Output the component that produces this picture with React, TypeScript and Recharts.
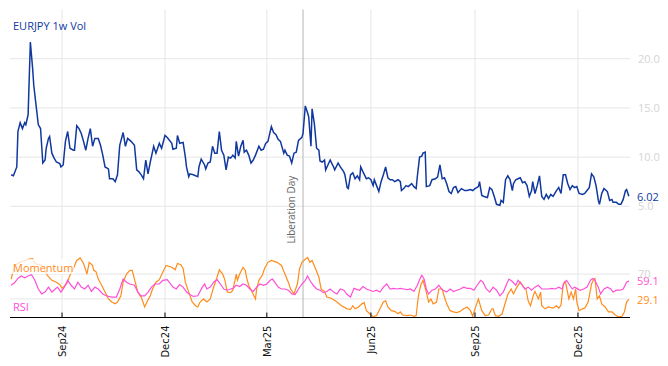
import React from 'react';
import { LineChart, Line, XAxis, YAxis, ReferenceLine, ReferenceDot } from 'recharts';

// x values are days counted from 2024-07-17
const tickDays = [46, 137, 227, 319, 411, 502];
const tickLabels = ['Sep24', 'Dec24', 'Mar25', 'Jun25', 'Sep25', 'Dec25'];
const liberationDay = 259;
const lastDay = 548;
const volTicks = [5, 10, 15, 20];
const oscTicks = [30, 70];

const volDays = [1, 3, 6, 7, 9, 11, 13, 14, 16, 18, 20, 21, 23, 25, 27, 29, 31, 32, 34, 35, 37, 39, 41, 44, 45, 47, 49, 51, 53, 56, 57, 59, 61, 63, 65, 67, 69, 71, 73, 75, 78, 80, 82, 84, 87, 88, 91, 93, 95, 97, 100, 102, 104, 107, 110, 112, 114, 116, 118, 120, 122, 124, 127, 129, 132, 134, 137, 139, 143, 144, 147, 148, 150, 153, 155, 156, 158, 159, 162, 166, 167, 169, 172, 173, 175, 177, 179, 181, 183, 185, 187, 189, 191, 193, 195, 197, 199, 200, 202, 204, 206, 207, 209, 211, 213, 215, 217, 220, 222, 224, 226, 228, 231, 233, 235, 237, 239, 242, 243, 245, 247, 249, 251, 253, 255, 258, 259, 261, 263, 264, 266, 267, 269, 271, 273, 274, 276, 278, 279, 281, 283, 286, 287, 290, 292, 295, 296, 298, 299, 301, 303, 305, 307, 309, 310, 312, 315, 317, 319, 321, 322, 324, 326, 328, 330, 332, 334, 336, 338, 340, 343, 345, 346, 348, 350, 352, 355, 357, 359, 360, 362, 364, 365, 367, 368, 371, 373, 376, 378, 380, 382, 384, 386, 388, 390, 392, 394, 396, 399, 402, 404, 407, 409, 411, 414, 415, 417, 419, 422, 424, 426, 428, 430, 433, 434, 436, 438, 440, 442, 444, 445, 447, 449, 451, 453, 455, 457, 459, 461, 462, 464, 466, 468, 470, 472, 474, 476, 478, 480, 483, 485, 487, 489, 491, 493, 495, 497, 499, 501, 503, 506, 508, 510, 512, 514, 516, 518, 520, 521, 523, 525, 528, 530, 532, 533, 536, 538, 540, 542, 544, 545, 547];
const volValues = [8.2, 8.1, 9.0, 12.6, 13.5, 12.9, 13.5, 13.3, 14.3, 21.7, 19.0, 17.3, 15.3, 13.3, 12.9, 9.4, 9.7, 10.9, 11.9, 12.1, 10.4, 9.9, 9.5, 9.35, 9.0, 9.2, 11.6, 12.6, 10.9, 10.7, 10.7, 13.2, 12.9, 12.4, 11.6, 10.7, 11.9, 12.9, 11.1, 11.9, 11.9, 11.2, 10.2, 9.0, 8.8, 7.8, 7.8, 7.5, 8.2, 11.2, 12.5, 11.1, 11.9, 11.6, 11.2, 8.7, 8.5, 8.2, 7.8, 9.7, 8.3, 9.5, 11.1, 10.4, 11.4, 10.9, 12.2, 12.0, 11.4, 10.8, 10.9, 12.2, 11.4, 11.5, 10.0, 9.0, 8.0, 8.3, 8.2, 8.0, 9.0, 9.8, 9.2, 8.8, 9.4, 9.5, 11.1, 10.4, 10.4, 12.6, 10.7, 10.2, 8.7, 10.0, 9.9, 10.2, 9.9, 11.6, 10.1, 11.1, 11.7, 10.5, 10.7, 10.2, 9.4, 9.7, 10.2, 11.1, 10.7, 10.8, 11.4, 11.6, 13.1, 12.5, 12.3, 11.8, 11.6, 10.4, 10.7, 10.2, 10.1, 9.4, 10.4, 10.5, 11.7, 12.0, 12.4, 15.2, 14.5, 14.1, 11.1, 14.9, 13.4, 10.9, 10.7, 9.6, 9.5, 9.7, 8.7, 9.2, 9.7, 9.0, 8.7, 9.4, 9.0, 8.5, 8.2, 6.9, 6.8, 8.2, 8.4, 7.8, 8.1, 7.7, 9.0, 8.5, 7.8, 7.9, 7.7, 7.1, 7.7, 7.1, 6.5, 7.5, 8.2, 9.0, 7.9, 7.7, 7.7, 7.5, 7.7, 7.5, 6.6, 6.8, 7.1, 7.0, 7.3, 7.0, 6.8, 8.0, 10.0, 10.1, 10.4, 10.5, 7.0, 7.1, 7.7, 7.8, 8.0, 9.2, 7.8, 7.9, 7.3, 6.5, 6.3, 6.9, 7.0, 6.4, 6.8, 6.6, 6.6, 6.7, 6.6, 6.8, 7.0, 7.5, 6.1, 6.0, 5.9, 6.9, 6.7, 6.0, 5.2, 5.1, 5.6, 5.4, 7.7, 8.1, 7.7, 6.6, 7.3, 7.7, 7.8, 7.9, 7.4, 7.5, 7.1, 6.0, 6.6, 7.5, 6.3, 7.1, 8.1, 6.0, 5.7, 6.2, 5.8, 6.2, 6.0, 6.6, 6.9, 6.3, 8.2, 8.2, 7.3, 6.7, 7.1, 6.9, 7.0, 6.3, 6.2, 6.3, 6.6, 6.9, 8.3, 8.0, 7.1, 5.6, 5.2, 6.3, 6.8, 6.5, 5.6, 5.7, 5.4, 5.4, 5.2, 5.2, 5.7, 6.6, 6.7, 6.02];

const momDays = [1, 4, 10, 16, 20, 22, 28, 31, 33, 37, 41, 44, 46, 50, 53, 56, 59, 62, 65, 67, 68, 70, 73, 74, 76, 78, 81, 84, 87, 90, 93, 95, 98, 100, 103, 106, 108, 110, 113, 115, 116, 119, 121, 124, 126, 129, 132, 135, 138, 143, 146, 148, 151, 153, 155, 158, 161, 164, 166, 168, 171, 174, 177, 180, 183, 185, 188, 190, 192, 195, 197, 200, 201, 203, 206, 208, 209, 211, 214, 215, 217, 218, 220, 223, 225, 228, 231, 236, 240, 243, 246, 248, 251, 254, 256, 258, 261, 263, 265, 267, 270, 273, 275, 278, 280, 284, 289, 293, 298, 301, 303, 305, 308, 311, 313, 315, 318, 321, 324, 327, 330, 332, 334, 337, 340, 343, 345, 347, 351, 354, 357, 359, 361, 363, 365, 368, 370, 372, 374, 377, 379, 382, 384, 386, 389, 392, 395, 398, 401, 404, 407, 409, 411, 414, 417, 420, 423, 426, 427, 429, 432, 435, 437, 440, 443, 445, 448, 451, 454, 456, 458, 460, 463, 464, 467, 469, 470, 473, 476, 480, 483, 485, 487, 489, 491, 494, 496, 498, 500, 501, 503, 506, 508, 511, 514, 516, 517, 519, 521, 523, 526, 529, 532, 535, 538, 541, 543, 545, 547];
const momValues = [62, 84, 90, 94, 95, 87, 84, 76, 68, 60, 57, 53, 47, 54, 68, 79, 92, 96, 87, 76, 70, 89, 84, 76, 74, 62, 52, 41, 30, 25, 22, 25, 35, 57, 70, 76, 76, 62, 41, 35, 33, 17, 25, 35, 46, 57, 61, 73, 84, 81, 77, 87, 85, 79, 57, 41, 25, 19, 17, 25, 30, 25, 30, 49, 65, 77, 70, 60, 41, 40, 44, 70, 60, 70, 81, 76, 65, 52, 41, 37, 30, 46, 60, 68, 79, 89, 92, 89, 84, 70, 57, 46, 38, 54, 79, 89, 94, 97, 89, 92, 79, 65, 46, 42, 33, 31, 25, 19, 14, 13, 19, 14, 17, 22, 24, 11, 6, 1, 3, 14, 25, 27, 17, 11, 10, 6, 9, 4, 3, 4, 2, 3, 35, 52, 60, 41, 25, 30, 22, 25, 46, 46, 33, 22, 11, 9, 8, 10, 14, 17, 11, 2, 14, 30, 11, 3, 4, 14, 14, 3, 2, 6, 19, 37, 46, 38, 49, 57, 49, 46, 27, 19, 38, 42, 30, 41, 19, 14, 17, 15, 19, 15, 20, 54, 57, 30, 41, 30, 46, 25, 11, 14, 15, 25, 54, 62, 63, 30, 35, 22, 17, 9, 9, 4, 1, 2, 9, 25, 29.1];

const rsiDays = [1, 4, 7, 10, 13, 16, 19, 22, 25, 28, 31, 34, 37, 40, 42, 45, 48, 51, 54, 57, 60, 63, 66, 69, 72, 75, 78, 82, 85, 90, 94, 97, 100, 103, 106, 110, 113, 116, 119, 122, 125, 128, 132, 135, 139, 144, 147, 150, 153, 156, 159, 162, 166, 170, 172, 174, 177, 180, 183, 186, 189, 192, 195, 197, 200, 203, 206, 209, 212, 215, 218, 221, 224, 227, 230, 232, 234, 237, 240, 243, 246, 249, 252, 255, 258, 261, 263, 265, 268, 271, 274, 277, 280, 283, 286, 289, 292, 295, 298, 301, 304, 307, 309, 312, 315, 318, 321, 324, 327, 330, 333, 336, 339, 342, 345, 348, 351, 354, 357, 360, 363, 364, 366, 368, 370, 373, 376, 379, 381, 383, 386, 389, 392, 395, 398, 401, 404, 407, 410, 413, 416, 418, 421, 424, 427, 430, 433, 436, 439, 441, 444, 447, 449, 452, 455, 458, 461, 464, 467, 470, 473, 476, 479, 482, 485, 488, 490, 492, 494, 497, 499, 501, 504, 507, 510, 513, 515, 517, 520, 522, 525, 528, 531, 533, 536, 539, 542, 545, 547];
const rsiValues = [52, 56, 63, 67, 64, 67, 69, 60, 46, 38, 41, 49, 41, 46, 49, 41, 49, 60, 52, 46, 57, 49, 46, 52, 42, 49, 46, 38, 35, 33, 33, 46, 62, 57, 54, 52, 41, 35, 35, 41, 49, 54, 54, 60, 61, 49, 46, 53, 49, 41, 37, 34, 35, 49, 54, 46, 49, 57, 61, 54, 46, 44, 46, 47, 52, 50, 54, 52, 46, 42, 49, 54, 52, 54, 60, 62, 57, 49, 46, 46, 44, 38, 37, 46, 54, 60, 67, 60, 52, 46, 44, 40, 42, 46, 41, 38, 46, 44, 37, 33, 47, 45, 44, 50, 46, 44, 42, 44, 41, 49, 54, 46, 47, 46, 47, 46, 45, 46, 42, 52, 65, 68, 62, 46, 38, 44, 46, 52, 47, 44, 41, 46, 42, 44, 46, 49, 47, 47, 44, 52, 60, 57, 46, 41, 49, 44, 35, 41, 54, 62, 58, 52, 60, 54, 46, 49, 44, 49, 52, 46, 46, 46, 47, 46, 49, 46, 57, 60, 54, 46, 49, 47, 44, 46, 49, 60, 63, 60, 49, 38, 46, 49, 46, 41, 44, 44, 46, 57, 59.1];

const volData = volDays.map((d, i) => ({ day: d, v: volValues[i] }));
const momData = momDays.map((d, i) => ({ day: d, v: momValues[i] }));
const rsiData = rsiDays.map((d, i) => ({ day: d, v: rsiValues[i] }));

const BLUE = '#10389f';
const ORANGE = '#ff8c1a';
const PINK = '#ff4fd8';
const GRID = '#e6e6e6';
const FONT = '"Open Sans", sans-serif';

const TopTick = (props: any) => {
  const { x, y } = props;
  return <line x1={x} y1={y} x2={x} y2={y - 5} stroke="#000" />;
};

const BottomTick = (props: any) => {
  const { x, y, payload } = props;
  const label = tickLabels[tickDays.indexOf(payload.value)];
  const tx = x + 4;
  const ty = y + 8;
  return (
    <g>
      <line x1={x} y1={y} x2={x} y2={y - 5} stroke="#000" />
      <text x={tx} y={ty} transform={`rotate(-90 ${tx} ${ty})`} textAnchor="end" fontSize={10} fontFamily="DejaVu Sans" fill="#111">
        {label}
      </text>
    </g>
  );
};

const LibLabel = (props: any) => {
  const vb = props.viewBox || {};
  const tx = vb.x - 8;
  const ty = vb.y + vb.height - 12;
  return (
    <text x={tx} y={ty} transform={`rotate(-90 ${tx} ${ty})`} textAnchor="start" fontSize={10} fontFamily={FONT} fill="#666">
      Liberation Day
    </text>
  );
};

const endLabel = (text: string, color: string) => (props: any) => {
  const vb = props.viewBox || {};
  const ty = vb.y;
  return (
    <g>
      <rect x={634} y={ty - 6} width={30} height={12} fill="#fff" />
      <text x={637} y={ty} dominantBaseline="central" fontSize={11} fontFamily={FONT} fill={color}>
        {text}
      </text>
    </g>
  );
};

const axisTick = { fill: '#d4d4d4', fontSize: 11, fontFamily: FONT };

const App: React.FC = () => {
  const lastVol = volData[volData.length - 1];
  const lastMom = momData[momData.length - 1];
  const lastRsi = rsiData[rsiData.length - 1];
  return (
    <div style={{ position: 'absolute', left: 0, top: 0, width: 668, height: 366, background: '#fff', fontFamily: FONT }}>
      <div style={{ position: 'absolute', left: 0, top: 0 }}>
        <LineChart width={668} height={256} data={volData} margin={{ top: 9.5, right: 0, bottom: 0.5, left: 10 }}>
          <XAxis dataKey="day" type="number" domain={[0, lastDay]} ticks={tickDays} interval={0} height={0}
            tickSize={0} tickMargin={0} tickLine={false} axisLine={{ stroke: '#000' }} tick={TopTick} />
          <XAxis xAxisId="top" orientation="top" dataKey="day" type="number" domain={[0, lastDay]} height={0}
            tick={false} tickLine={false} axisLine={{ stroke: '#000' }} />
          <YAxis orientation="right" domain={[0, 25]} ticks={volTicks} width={38} axisLine={{ stroke: 'none' }} tickLine={false}
            tick={axisTick} tickFormatter={(v: number) => v.toFixed(1)} />
          {volTicks.map((t) => <ReferenceLine key={`h${t}`} y={t} stroke={GRID} />)}
          {tickDays.map((d) => <ReferenceLine key={`v${d}`} x={d} stroke={GRID} />)}
          <ReferenceLine x={liberationDay} stroke="#b5b5b5" label={<LibLabel />} />
          <Line type="linear" dataKey="v" stroke={BLUE} strokeWidth={1.5} dot={false} isAnimationActive={false} />
          <ReferenceDot x={lastVol.day} y={lastVol.v} r={0} fill="none" stroke="none" ifOverflow="visible"
            label={endLabel(lastVol.v.toFixed(2), BLUE)} />
        </LineChart>
      </div>
      <div style={{ position: 'absolute', left: 0, top: 255 }}>
        <LineChart width={668} height={111} margin={{ top: 0.5, right: 0, bottom: 0, left: 10 }}>
          <XAxis dataKey="day" type="number" domain={[0, lastDay]} ticks={tickDays} interval={0} height={48.5}
            tickSize={0} tickMargin={0} tickLine={false} axisLine={{ stroke: '#000' }} tick={BottomTick} />
          <YAxis orientation="right" domain={[0, 100]} ticks={oscTicks} width={38} axisLine={{ stroke: 'none' }} tickLine={false}
            tick={axisTick} tickFormatter={(v: number) => (v === 30 ? '' : String(v))} />
          {oscTicks.map((t) => <ReferenceLine key={`h${t}`} y={t} stroke={GRID} />)}
          {tickDays.map((d) => <ReferenceLine key={`v${d}`} x={d} stroke={GRID} />)}
          <ReferenceLine x={liberationDay} stroke="#b5b5b5" />
          <Line data={momData} type="linear" dataKey="v" stroke={ORANGE} strokeWidth={1.2} dot={false} isAnimationActive={false} />
          <Line data={rsiData} type="linear" dataKey="v" stroke={PINK} strokeWidth={1.2} dot={false} isAnimationActive={false} />
          <ReferenceDot x={lastMom.day} y={lastMom.v} r={0} fill="none" stroke="none" ifOverflow="visible"
            label={endLabel(lastMom.v.toFixed(1), ORANGE)} />
          <ReferenceDot x={lastRsi.day} y={lastRsi.v} r={0} fill="none" stroke="none" ifOverflow="visible"
            label={endLabel(lastRsi.v.toFixed(1), PINK)} />
        </LineChart>
      </div>
      <svg width={668} height={366} style={{ position: 'absolute', left: 0, top: 0, pointerEvents: 'none' }}>
        <text x={13} y={29.5} fontSize={11} fontFamily={FONT} fill={BLUE}>EURJPY 1w Vol</text>
        <rect x={10} y={259} width={64} height={15} fill="#fff" fillOpacity={0.75} />
        <text x={13} y={272} fontSize={11} fontFamily={FONT} fill={ORANGE}>Momentum</text>
        <text x={13} y={310.5} fontSize={11} fontFamily={FONT} fill={PINK}>RSI</text>
      </svg>
    </div>
  );
};

export default App;
